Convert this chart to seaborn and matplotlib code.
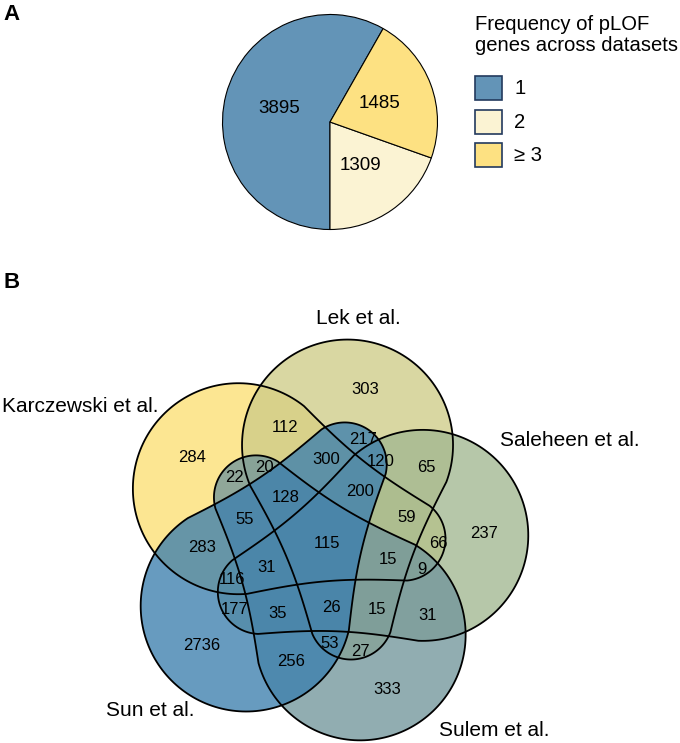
import numpy as np
import matplotlib
matplotlib.use('Agg')
import matplotlib.pyplot as plt
import seaborn as sns
from matplotlib.patches import Polygon, Rectangle

# ---- data ----
pie_labels = ['1', '2', '\u2265 3']
pie_counts = [3895, 1309, 1485]
pie_colors = ['#6394b7', '#fbf3d3', '#fde182']

set_names = ['Karczewski et al.', 'Lek et al.', 'Saleheen et al.', 'Sulem et al.', 'Sun et al.']
set_colors = ['#fce073', '#cfcc88', '#a2b891', '#72969b', '#3c7fae']

region_counts = [303, 112, 284, 217, 300, 120, 65, 22, 20, 128, 200, 237, 59, 55, 283,
                 115, 66, 15, 31, 9, 116, 177, 35, 26, 15, 31, 2736, 53, 27, 256, 333]

# ---- layout (pixel coordinates of the 680x743 canvas) ----
region_xy = [(365, 390), (285, 427), (192, 458), (363, 439), (326, 460), (381, 462),
             (426, 468), (235, 478), (264, 467), (286, 497), (360, 492), (484, 533),
             (407, 517), (245, 520), (202, 547), (327, 543), (438, 543), (388, 560),
             (267, 568), (422, 570), (232, 580), (235, 609), (278, 613), (331, 607),
             (377, 610), (428, 615), (202, 645), (330, 643), (360, 651), (291, 662),
             (387, 690)]
label_pos = {'Karczewski et al.': (2, 406, 'left'), 'Lek et al.': (358, 318, 'center'),
             'Saleheen et al.': (500, 441, 'left'), 'Sulem et al.': (439, 731, 'left'),
             'Sun et al.': (106, 711, 'left')}
ring_slot = {'Lek et al.': 0, 'Karczewski et al.': 1, 'Sun et al.': 2,
             'Sulem et al.': 3, 'Saleheen et al.': 4}

sns.set_theme(style='white')
plt.rcParams['font.family'] = ['Liberation Sans', 'DejaVu Sans']
plt.rcParams['text.color'] = 'black'

W, H = 680, 743
fig = plt.figure(figsize=(W / 100, H / 100), dpi=100)
ax = fig.add_axes([0, 0, 1, 1])
ax.set_xlim(0, W)
ax.set_ylim(H, 0)
ax.axis('off')

# ---- panel A: pie ----
pc, pr, pad = (330, 122), 107.5, 112
ax_pie = fig.add_axes([(pc[0] - pad) / W, 1 - (pc[1] + pad) / H, 2 * pad / W, 2 * pad / H])
total = sum(pie_counts)
ax_pie.pie(pie_counts, colors=sns.color_palette(pie_colors),
           startangle=270 - 360 * pie_counts[0] / total, counterclock=True,
           autopct=lambda p: f'{round(p * total / 100)}', pctdistance=0.49,
           wedgeprops=dict(edgecolor='black', linewidth=0.8),
           textprops=dict(fontsize=13.5, color='black'))
ax_pie.set_xlim(-pad / pr, pad / pr)
ax_pie.set_ylim(-pad / pr, pad / pr)
ax_pie.set_aspect('auto')
ax_pie.axis('off')

ax.text(475, 35, 'Frequency of pLOF\ngenes across datasets', fontsize=14.6,
        va='center', ha='left', linespacing=1.15)
for i, (lab, col) in enumerate(zip(pie_labels, pie_colors)):
    y0 = 76 + i * 33.5
    ax.add_patch(Rectangle((475, y0), 27, 24, facecolor=col, edgecolor='#233a5e', lw=1.2))
    ax.text(514, y0 + 12.5, lab, fontsize=14.6, va='center', ha='left')

ax.text(12, 15, 'A', fontsize=16, fontweight='bold', va='center', ha='center')
ax.text(12, 283, 'B', fontsize=16, fontweight='bold', va='center', ha='center')

# ---- panel B: five-set Venn ----
C = np.array([323.0, 542.0])


def polar(rho, deg):
    a = np.radians(deg)
    return C + rho * np.array([np.cos(a), -np.sin(a)])


def egg(P, tip, R, r, bend, n=120):
    # round lobe of radius R at P, narrow rounded end of radius r touching tip
    d = tip - P
    L = np.hypot(*d)
    u = d / L
    v = np.array([-u[1], u[0]])
    D = L - r
    al = np.arcsin((R - r) / D)
    pts = [(R * np.cos(a), R * np.sin(a))
           for a in np.linspace(np.pi / 2 - al, 3 * np.pi / 2 + al, n)]

    def side(a, forward):
        p0 = np.array([R * np.cos(a), R * np.sin(a)])
        p1 = np.array([D + r * np.cos(a), r * np.sin(a)])
        if not forward:
            p0, p1 = p1, p0
        nrm = np.array([np.cos(a), np.sin(a)])
        return [tuple(p0 + s * (p1 - p0) - bend * np.sin(np.pi * s) * nrm)
                for s in np.linspace(0, 1, 40)[1:-1]]

    pts += side(-(np.pi / 2 - al), True)
    pts += [(D + r * np.cos(a), r * np.sin(a))
            for a in np.linspace(-(np.pi / 2 - al), np.pi / 2 - al, n)]
    pts += side(np.pi / 2 - al, False)
    pts = np.array(pts)
    return P + pts[:, :1] * u + pts[:, 1:] * v


shapes = {}
for name in set_names:
    k = ring_slot[name]
    ang = 75.8 + 72 * k
    shapes[name] = egg(polar(100, ang), polar(121, ang + 208), 105.5, 42, 6)

for name, col in zip(set_names, set_colors):
    ax.add_patch(Polygon(shapes[name], closed=True, facecolor=col, alpha=0.78, lw=0))
for name in set_names:
    ax.add_patch(Polygon(shapes[name], closed=True, fill=False, edgecolor='black', lw=1.3))

for cnt, (x, y) in zip(region_counts, region_xy):
    ax.text(x, y, str(cnt), fontsize=12, ha='center', va='center')

for name in set_names:
    x, y, ha = label_pos[name]
    ax.text(x, y, name, fontsize=15, ha=ha, va='center')

fig.savefig('out.png', dpi=100)
